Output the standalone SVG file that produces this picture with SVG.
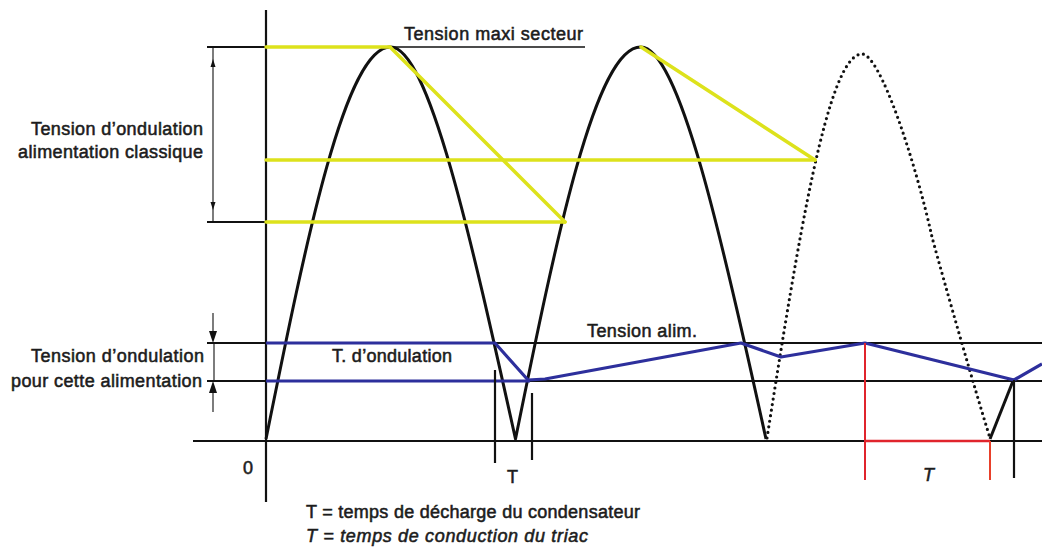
<svg xmlns="http://www.w3.org/2000/svg" width="1042" height="547" viewBox="0 0 1042 547">
<style>
.ln{stroke:#111;fill:none;stroke-width:2.2;stroke-linecap:butt}
.thin{stroke:#111;fill:none;stroke-width:1.1}
.wave{stroke:#111;fill:none;stroke-width:3;stroke-linejoin:round}
.dot{stroke:#111;fill:none;stroke-width:3.2;stroke-dasharray:0 5.6;stroke-linecap:round}
.yel{stroke:#dde21c;fill:none;stroke-width:3.5;stroke-linecap:round}
.blu{stroke:#2d2f9c;fill:none;stroke-width:3.2;stroke-linejoin:round}
.red{stroke:#e0242c;fill:none;stroke-width:2}
.t{font-family:"Liberation Sans",Arial,sans-serif;font-size:18px;fill:#1c1c1c;stroke:#1c1c1c;stroke-width:0.55}
.r{text-anchor:end}
.i{font-style:italic}
</style>
<rect width="1042" height="547" fill="#fff"/>
<g id="axes">
<line class="ln" x1="266" y1="10" x2="266" y2="502"/>
<line class="ln" x1="193" y1="441" x2="1042" y2="441"/>
<line class="ln" x1="207" y1="343" x2="1042" y2="343"/>
<line class="ln" x1="207" y1="381" x2="1042" y2="381"/>
<line class="ln" x1="207" y1="47" x2="266" y2="47"/>
<line class="ln" x1="207" y1="222" x2="266" y2="222"/>
<line class="thin" x1="390" y1="47" x2="585" y2="47" style="stroke-width:1.6"/>
</g>
<g id="waveform">
<path class="wave" d="M266,439 C306.6,238.2 345.4,47 390.5,47 C428.5,47 471,238 515.5,439 C556.3,238.2 595.4,47 640.75,47 C678.75,47 722,238 766,439"/>
<path class="dot" d="M767,438 C798,241.3 827.6,54 862,54 C880,54 915,160 932,237 C945,285 975,390 990,438"/>
<line class="wave" x1="990" y1="439" x2="1013" y2="381"/>
</g>
<g id="classic-ripple">
<line class="yel" x1="266" y1="47" x2="390" y2="47"/>
<line class="yel" x1="266" y1="160" x2="815" y2="160"/>
<line class="yel" x1="266" y1="222" x2="565" y2="222"/>
<line class="yel" x1="390" y1="47" x2="565" y2="222"/>
<line class="yel" x1="641" y1="47" x2="815" y2="160"/>
</g>
<g id="triac-ripple">
<polyline class="blu" points="266,343 495,343 528,380 545,379 741,343 781,357 865,343 1014,380 1042,364"/>
<line class="blu" x1="266" y1="381" x2="530" y2="381"/>
</g>
<g id="markers">
<line class="ln" x1="495" y1="370" x2="495" y2="463"/>
<line class="ln" x1="532" y1="393" x2="532" y2="460"/>
<line class="ln" x1="1014" y1="380" x2="1014" y2="478"/>
<line class="red" x1="865" y1="343" x2="865" y2="480"/>
<line class="red" x1="865" y1="441" x2="990" y2="441" style="stroke-width:2.4"/>
<line class="red" x1="990" y1="441" x2="990" y2="480" style="stroke:#e8402a"/>
</g>
<g id="dimensions">
<line class="thin" x1="213" y1="47" x2="213" y2="222"/>
<polygon points="213,59 210.5,67 215.5,67" fill="#111"/>
<polygon points="213,210 210.5,202 215.5,202" fill="#111"/>
<line class="thin" x1="213" y1="313" x2="213" y2="336"/>
<polygon points="213,343 209,331 217,331" fill="#111"/>
<line class="thin" x1="214" y1="343" x2="214" y2="381"/>
<line class="thin" x1="213" y1="412" x2="213" y2="388"/>
<polygon points="213,381 209,393 217,393" fill="#111"/>
</g>
<g id="labels">
<text class="t" x="404" y="40" textLength="179">Tension maxi secteur</text>
<text class="t r" x="203" y="135" textLength="172">Tension d’ondulation</text>
<text class="t r" x="203" y="158" textLength="185">alimentation classique</text>
<text class="t r" x="204" y="362" textLength="173">Tension d’ondulation</text>
<text class="t r" x="202" y="387" textLength="191">pour cette alimentation</text>
<text class="t" x="332" y="362" textLength="120">T. d’ondulation</text>
<text class="t" x="587" y="337" textLength="110">Tension alim.</text>
<text class="t" x="243" y="474">0</text>
<text class="t" x="507" y="483">T</text>
<text class="t i" x="923" y="481">T</text>
<text class="t" x="306" y="518" textLength="334">T = temps de décharge du condensateur</text>
<text class="t i" x="306" y="542" textLength="282">T = temps de conduction du triac</text>
</g>
</svg>
